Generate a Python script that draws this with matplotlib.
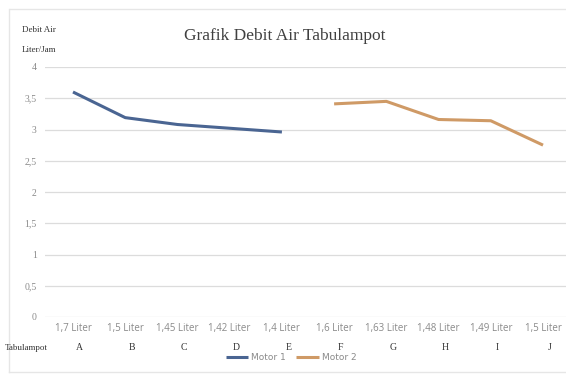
import matplotlib
matplotlib.use("Agg")
import matplotlib.pyplot as plt
import numpy as np

volumes = ["1,7 Liter", "1,5 Liter", "1,45 Liter", "1,42 Liter", "1,4 Liter",
           "1,6 Liter", "1,63 Liter", "1,48 Liter", "1,49 Liter", "1,5 Liter"]
letters = ["A", "B", "C", "D", "E", "F", "G", "H", "I", "J"]
motor1 = [3.6, 3.19, 3.08, 3.02, 2.96, None, None, None, None, None]
motor2 = [None, None, None, None, None, 3.41, 3.45, 3.16, 3.14, 2.75]
yticks = [0, 0.5, 1, 1.5, 2, 2.5, 3, 3.5, 4]
ytick_labels = ["0", "0,5", "1", "1,5", "2", "2,5", "3", "3,5", "4"]

fig = plt.figure(figsize=(5.66, 3.77), dpi=100)
W, H = 566, 377
ax = fig.add_axes([45 / W, (H - 317) / H, (566 - 45) / W, (317 - 67) / H])

x = np.arange(len(volumes))
m1 = np.array([np.nan if v is None else v for v in motor1], dtype=float)
m2 = np.array([np.nan if v is None else v for v in motor2], dtype=float)
ax.plot(x, m1, color="#4a6592", lw=2.2, label="Motor 1", solid_capstyle="butt")
ax.plot(x, m2, color="#cf9a66", lw=2.2, label="Motor 2", solid_capstyle="butt")

ax.set_xlim(-0.536, 9.44)
ax.set_ylim(0, 4)
ax.set_yticks(yticks)
ax.set_yticklabels(ytick_labels, fontsize=7, color="#8a8a8a", family="Liberation Serif")
ax.tick_params(axis="y", length=0, pad=6)
ax.set_xticks(x)
ax.set_xticklabels(volumes, fontsize=7, color="#8a8a8a", family="Open Sans")
ax.tick_params(axis="x", length=0, pad=4)
ax.grid(axis="y", color="#dcdcdc", lw=0.9)
ax.set_axisbelow(True)
for s in ax.spines.values():
    s.set_visible(False)

for i, l in enumerate(letters):
    ax.text(i + 0.13, -0.49, l, transform=ax.transData, ha="center", va="center",
            fontsize=7, color="#333333", family="Liberation Serif", clip_on=False)
fig.text(5 / W, 1 - 348 / H, "Tabulampot", fontsize=6.5, color="#333333",
         family="Liberation Serif", ha="left", va="center")

fig.text(285 / W, 1 - 36 / H, "Grafik Debit Air Tabulampot", fontsize=12.5,
         color="#404040", family="Liberation Serif", ha="center", va="center")
fig.text(22 / W, 1 - 30 / H, "Debit Air", fontsize=6.5, color="#333333",
         family="Liberation Serif", ha="left", va="center")
fig.text(22 / W, 1 - 50 / H, "Liter/Jam", fontsize=6.5, color="#333333",
         family="Liberation Serif", ha="left", va="center")

leg = fig.legend(loc="center", bbox_to_anchor=(291 / W, 1 - 358 / H), ncol=2,
                 frameon=False, fontsize=6.5, handlelength=2.5, columnspacing=1.2,
                 handletextpad=0.3)
for t in leg.get_texts():
    t.set_color("#8a8a8a")

# outer chart border
fig.add_artist(plt.Line2D([10 / W, 1], [1 - 9 / H, 1 - 9 / H], color="#e6e6e6", lw=1))
fig.add_artist(plt.Line2D([9 / W, 9 / W], [1 - 9 / H, 1 - 372 / H], color="#e6e6e6", lw=1))
fig.add_artist(plt.Line2D([9 / W, 1], [1 - 372 / H, 1 - 372 / H], color="#e6e6e6", lw=1))

fig.savefig("out.png", dpi=100)
